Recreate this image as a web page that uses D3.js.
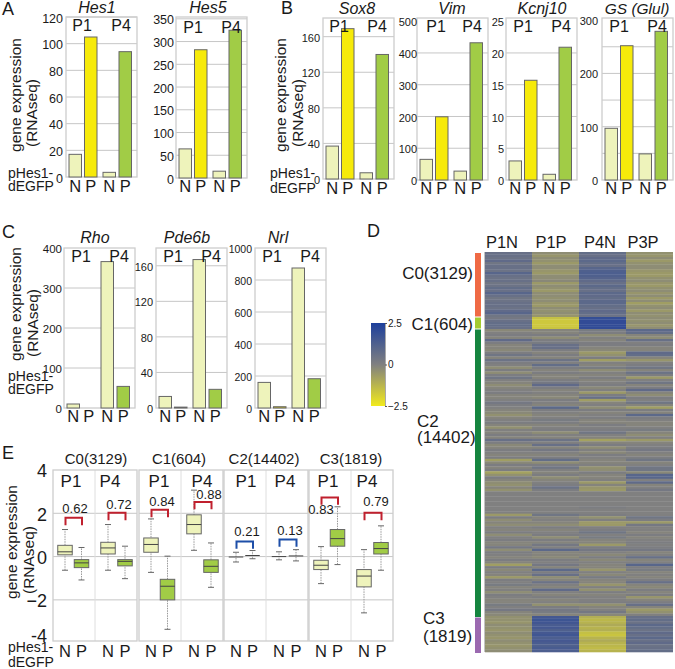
<!DOCTYPE html>
<html>
<head>
<meta charset="utf-8">
<script src="https://cdn.jsdelivr.net/npm/d3@7"></script>
<style>
html,body{margin:0;padding:0;background:#fff}
svg{display:block}
text{font-family:"Liberation Sans",Arial,sans-serif;fill:#1a1a1a}
</style>
</head>
<body>
<svg id="chart" width="675" height="669"></svg>
<script>
// ---------- DATA ----------
const barKeys = ["N1", "P1", "N4", "P4"];
const barLabels = ["N", "P", "N", "P"];
const hes1 = [17, 105, 3.5, 94];
const hes5 = [64, 282, 15, 325];
const sox8 = [37, 169, 7, 140];
const vim = [65, 199, 28, 432];
const kcnj10 = [3, 15.7, 0.9, 20.9];
const glul = [97, 252, 49, 279];
const rho = [10, 0, 366, 54];
const pde6b = [13, 1, 167, 21];
const nrl = [160, 8, 875, 183];

// box stats: [low, q1, median, q3, high]
const c0Boxes = [[-0.63,0.08,0.22,0.52,1.25],[-1.08,-0.51,-0.29,-0.14,0.42],[-0.63,0.12,0.40,0.66,1.48],[-1.02,-0.43,-0.22,-0.14,0.48]];
const c1Boxes = [[-0.73,0.20,0.56,0.86,1.74],[-3.36,-2.0,-1.37,-1.05,0.02],[0.29,1.05,1.48,1.93,3.07],[-1.42,-0.73,-0.45,-0.15,0.63]];
const c2Boxes = [[-0.25,-0.02,-0.02,-0.02,0.2],[-0.1,0.05,0.05,0.05,0.28],[-0.15,0,0,0,0.22],[-0.2,0.03,0.03,0.03,0.32]];
const c3Boxes = [[-1.25,-0.6,-0.4,-0.17,0.46],[-0.37,0.48,0.83,1.25,2.3],[-2.6,-1.4,-0.9,-0.6,0.32],[-0.63,0.12,0.37,0.65,1.42]];
const clusterTitles = ["C0(3129)", "C1(604)", "C2(14402)", "C3(1819)"];
const corrLabels = [["0.62","0.72"],["0.84","0.88"],["0.21","0.13"],["0.83","0.79"]];
const corrLevels = [[1.79,2.02],[2.16,2.52],[0.70,0.79],[2.73,2.02]];
const corrLabelLevels = [[2.0,2.2],[2.32,2.67],[0.94,0.98],[1.97,2.34]];

// heatmap: values in tenths of a unit (-25 .. 25)
const heatColumns = ["P1N", "P1P", "P4N", "P3P"];
const heatTicks = [2.5, 0, -2.5];
const c0P1N = [6,6,5,8,4,6,6,5,10,6,5,6,4,5,7,6,10,6,4,5,6,6,5,8,10,4];
const c0P1P = [-3,-5,-3,-4,-6,-3,-3,-5,-6,-3,-3,-2,-6,-3,-4,-6,-3,-3,-4,-3,-5,-6,-3,-4,-3,-5];
const c0P4N = [7,6,8,9,7,6,10,12,13,12,11,8,6,9,7,6,9,8,7,9,9,7,6,8,7,5];
const c0P3P = [-4,-5,-3,-6,-4,-3,-3,-5,-6,-6,-4,-3,-5,-6,-4,-3,-5,-3,-6,-3,-7,-4,-3,-6,-3,-4];
const c1P1N = [3,6,7,7,6];
const c1P1P = [-15,-17,-17,-17,-16];
const c1P4N = [19,20,20,20,20];
const c1P3P = [-3,-4,-3,-5,-3];
const c2P1N = [
 -2,0,1,-1,8,1,-1,-1,-2,1,4,-1,5,1,0,-3,1,-3,1,4,0,-1,-3,-1,0,1,-1,-1,0,3,1,0,-1,-2,-4,-1,0,1,-1,-4,
 0,-1,1,-1,6,1,-2,-1,1,0,-1,1,-7,-2,1,-1,1,-8,-4,1,-1,-3,-4,-1,-4,0,0,0,0,0,0,0,0,0,-6,1,-3,-1,-3,0,
 -1,1,-3,0,1,-1,-1,3,-3,1,0,-1,1,-1,-7,1,-2,0,-1,-6,1,0,2,-1,0,-3,1,0,-1,-1,2,0,3,-1,-2];
const c2P1P = [
 -1,-1,1,-3,1,2,6,6,1,-1,1,-1,5,0,7,1,-1,1,-1,-1,1,3,8,1,-1,0,-1,-2,1,0,-1,9,1,0,-1,0,2,1,-1,0,
 1,-3,0,-1,5,0,6,-1,3,0,-1,1,7,-3,1,4,0,-1,1,-3,-1,0,1,5,1,0,0,0,0,0,0,0,0,0,4,-1,0,-1,-3,1,
 -1,0,1,-3,1,-1,3,0,9,-1,-1,-2,1,0,3,-1,9,1,6,-3,-1,5,0,-1,8,0,-1,1,-1,0,-4,1,3,2,-1];
const c2P4N = [
 2,1,-3,0,-1,1,1,-1,-2,-6,-4,1,-7,0,-1,2,-3,0,-1,1,-1,0,1,-2,0,-6,1,6,-7,-1,0,-3,1,-1,0,1,-1,-1,1,0,
 1,4,0,-1,-8,-1,1,-3,0,-2,1,0,-1,-1,0,-4,-3,1,-1,-1,0,-6,-1,-5,-6,0,0,0,0,0,0,1,0,0,1,-4,0,-6,-6,0,
 1,4,0,2,-1,-1,-6,1,3,0,-2,1,-2,0,-1,-1,-5,0,-2,2,-1,-1,-5,0,-4,1,-1,0,0,1,-4,-1,0,3,-2];
const c2P3P = [
 9,7,-1,-3,6,0,1,-1,-1,8,7,-1,-5,0,1,4,-1,5,1,-6,0,4,-1,1,8,-1,-3,1,0,4,-1,-7,1,-1,9,1,0,-1,-1,0,
 2,-1,-3,0,-6,-1,0,1,3,0,-1,1,4,-1,0,4,4,-2,10,10,0,8,-1,0,3,0,0,0,0,0,0,0,0,0,0,4,1,-6,3,0,
 0,-1,1,-1,0,1,0,1,3,-1,0,6,-1,0,10,1,2,-1,0,-1,1,6,-1,-2,1,-1,1,-5,-1,1,6,-1,-6,-4,0];
const c3P1N = [-4,-4,-5,-3,-4,-5,-3,-4,-5,-3,-4,-5,-4,-3];
const c3P1P = [15,17,16,14,15,12,15,16,13,15,14,12,14,13];
const c3P4N = [-11,-13,-12,-10,-12,-11,-15,-16,-12,-10,-12,-13,-14,-12];
const c3P3P = [6,7,5,9,7,5,8,6,9,6,8,5,6,7];

// ---------- LAYOUT ----------
const svg = d3.select("#chart");
const frameColor = "#cdcdcd", gridColor = "#c6c6c6";
const fill = {N1:"#eef3bb", P1:"#f6ea0a", N4:"#eef3bb", P4:"#a1cc46"};
const barOffsets = [3, 18.5, 37, 53];
const barW = 12.5;
const boxOffsets = [12, 28.5, 55, 72];

const barPanels = [
 {name:"Hes1",values:hes1,left:66,top:17,bottom:177,max:120,grid:[20,40,60,80,100,120],labels:[0,20,40,60,80,100,120],right:63,font:12.5,cx:97,ty:13,p:[82,121],py:31},
 {name:"Hes5",values:hes5,left:176,top:17,bottom:178,max:354,grid:[50,100,150,200,250,300,350],labels:[0,50,100,150,200,250,300,350],right:174,font:12.5,cx:208,ty:13,p:[193,231],py:33},
 {name:"Sox8",values:sox8,left:323,top:18,bottom:179,max:181,grid:[40,80,120,160],labels:[0,40,80,120,160],right:320,font:11,cx:357,ty:14,p:[339,377],py:32},
 {name:"Vim",values:vim,left:417,top:18,bottom:180,max:510,grid:[100,200,300,400],labels:[0,100,200,300,400,500],right:417,font:11,cx:452,ty:14,p:[436,472],py:32},
 {name:"Kcnj10",values:kcnj10,left:506,top:18,bottom:180,max:25.5,grid:[5,10,15,20],labels:[0,5,10,15,20,25],right:504,font:11,cx:542,ty:14,p:[523,561],py:32},
 {name:"GS (Glul)",values:glul,left:602,top:18,bottom:180,max:304,grid:[50,100,150,200,250],labels:[0,100,200,300],right:598,font:11,cx:637,ty:14,p:[619,657],py:32},
 {name:"Rho",values:rho,left:64,top:248,bottom:408,max:400,grid:[100,200,300],labels:[0,100,200,300,400],right:62,font:11.5,cx:95,ty:243,p:[81,119],py:262,xy:422},
 {name:"Pde6b",values:pde6b,left:156,top:248,bottom:408,max:180,grid:[40,80,120,160],labels:[0,40,80,120,160],right:153,font:11,cx:187,ty:243,p:[173,211],py:262,xy:422},
 {name:"Nrl",values:nrl,left:255,top:248,bottom:408,max:1000,grid:[200,400,600,800],labels:[0,200,400,600,800,1000],right:252,font:10.5,cx:278,ty:243,p:[272,310],py:262,xy:422}
];

function txt(x, y, s, size, opts){
  opts = opts || {};
  return svg.append("text").attr("x",x).attr("y",y).attr("font-size",size)
    .attr("text-anchor",opts.anchor||"start").attr("font-style",opts.style||null).text(s);
}
function vtxt(x, cy, s, size){
  return svg.append("text").attr("transform",`translate(${x},${cy}) rotate(-90)`)
    .attr("font-size",size).attr("text-anchor","middle").text(s);
}

barPanels.forEach((pn,pi)=>{
  const xBar = d3.scaleOrdinal().domain(barKeys).range(barOffsets.map(o=>pn.left+o));
  const y = d3.scaleLinear().domain([0,pn.max]).range([pn.bottom,pn.top]);
  const g = svg.append("g");
  g.selectAll("line.grid").data(pn.grid).join("line")
    .attr("x1",pn.left).attr("x2",pn.left+71).attr("y1",d=>y(d)).attr("y2",d=>y(d))
    .attr("stroke",gridColor).attr("stroke-width",1);
  g.append("rect").attr("x",pn.left).attr("y",pn.top).attr("width",71).attr("height",pn.bottom-pn.top)
    .attr("fill","none").attr("stroke",frameColor).attr("stroke-width",1.3);
  g.selectAll("rect.bar").data(pn.values.map((v,i)=>({k:barKeys[i],v}))).join("rect").attr("class","bar")
    .filter(d=>d.v>0)
    .attr("x",d=>xBar(d.k)).attr("width",barW)
    .attr("y",d=>y(d.v)).attr("height",d=>y(0)-y(d.v))
    .attr("fill",d=>fill[d.k]).attr("stroke","#666").attr("stroke-width",1);
  const ax = g.append("g").attr("transform",`translate(${pn.right},1)`)
    .call(d3.axisLeft(y).tickValues(pn.labels).tickSize(0).tickPadding(0).tickFormat(d3.format("d")));
  ax.select(".domain").remove();
  ax.selectAll("text").attr("font-size",pn.font).attr("font-family",'"Liberation Sans"').attr("fill","#1a1a1a");
  txt(pn.cx,pn.ty,pn.name,pn.name.length>6?15.5:16,{anchor:"middle",style:"italic"});
  txt(pn.p[0],pn.py,"P1",16,{anchor:"middle"});
  txt(pn.p[1],pn.py,"P4",16,{anchor:"middle"});
  const xy = pn.xy || (pi<2?192:194);
  barKeys.forEach((k,i)=> txt(xBar(k)+barW/2,xy,barLabels[i],16.5,{anchor:"middle"}));
});

// y captions + sample labels
const captions = [
 {x1:21,x2:37,c1:95,c2:113},{x1:286,x2:303,c1:95,c2:113},
 {x1:21,x2:38,c1:304,c2:323},{x1:17,x2:34,c1:542,c2:560}
];
captions.forEach(c=>{ vtxt(c.x1,c.c1,"gene expression",15.5); vtxt(c.x2,c.c2,"(RNAseq)",15.5); });
const sampleLabels = [{x:8,a:178,b:191},{x:270,a:178,b:193},{x:8,a:381,b:394},{x:8,a:652,b:667}];
sampleLabels.forEach(s=>{ txt(s.x,s.a,"pHes1-",14); txt(s.x,s.b,"dEGFP",14); });
[["A",2,15],["B",281,14],["C",2,238],["D",367,237],["E",2,459]].forEach(d=>txt(d[1],d[2],d[0],18));

// ---------- PANEL E ----------
const facetLefts = [53,139,224,309];
const facetW = 84;
const eY = d3.scaleLinear().domain([-3.9,4]).range([641,470]);
const eGrid = [2,0,-2];
const eBoxes = [c0Boxes,c1Boxes,c2Boxes,c3Boxes];
const eTitleX = [96,179,264,351];
const eP = [[71,110],[159,202],[246,285],[328,367]];
const corrColor = ["#c0202e","#c0202e","#1d4ea8","#c0202e"];
const corrLabelX = [[75,119],[162,209],[247,290],[321,376]];

const eAxis = svg.append("g").attr("transform","translate(47,1)")
  .call(d3.axisLeft(eY).tickValues([4,2,0,-2,-3.9]).tickSize(0).tickPadding(0).tickFormat(d=>d<-3?"-4":d3.format("d")(d)));
eAxis.select(".domain").remove();
eAxis.selectAll("text").attr("font-size",18).attr("font-family",'"Liberation Sans"').attr("fill","#1a1a1a");
eAxis.selectAll(".tick").filter(d=>d<-3).attr("transform","translate(0,635)");

eBoxes.forEach((boxes,fi)=>{
  const left = facetLefts[fi];
  const x = d3.scaleOrdinal().domain(barKeys).range(boxOffsets.map(o=>left+o));
  const g = svg.append("g");
  g.selectAll("line.g").data(eGrid).join("line")
    .attr("x1",left).attr("x2",left+facetW).attr("y1",d=>eY(d)).attr("y2",d=>eY(d))
    .attr("stroke",gridColor);
  g.append("line").attr("x1",left+facetW/2).attr("x2",left+facetW/2).attr("y1",470).attr("y2",641).attr("stroke","#dedede");
  g.append("rect").attr("x",left).attr("y",470).attr("width",facetW).attr("height",171)
    .attr("fill","none").attr("stroke",frameColor).attr("stroke-width",1.3);
  boxes.forEach((b,i)=>{
    const k = barKeys[i], cx = x(k), w = 14.5;
    g.append("line").attr("x1",cx).attr("x2",cx).attr("y1",eY(b[0])).attr("y2",eY(b[4]))
      .attr("stroke","#999").attr("stroke-dasharray","1.5,1");
    [b[0],b[4]].forEach(v=> g.append("line").attr("x1",cx-3).attr("x2",cx+3).attr("y1",eY(v)).attr("y2",eY(v)).attr("stroke","#666"));
    if (b[3] > b[1]) {
      g.append("rect").attr("x",cx-w/2).attr("width",w).attr("y",eY(b[3])).attr("height",eY(b[1])-eY(b[3]))
        .attr("fill",i%2? "#a1cc46":"#eef3bb").attr("stroke","#666");
    }
    g.append("line").attr("x1",cx-w/2).attr("x2",cx+w/2).attr("y1",eY(b[2])).attr("y2",eY(b[2])).attr("stroke","#444");
    txt(cx,657,barLabels[i],16.5,{anchor:"middle"});
  });
  txt(eTitleX[fi],464,clusterTitles[fi],15,{anchor:"middle"});
  [0,1].forEach(j=>{
    txt(eP[fi][j],487,j?"P4":"P1",17,{anchor:"middle"});
    const xa = x(barKeys[j*2])+0.5, xb = x(barKeys[j*2+1])+0.5, lv = eY(corrLevels[fi][j]);
    g.append("path").attr("d",d3.line()([[xa,lv+7.3],[xa,lv],[xb,lv],[xb,lv+7.3]]))
      .attr("fill","none").attr("stroke",corrColor[fi]).attr("stroke-width",2);
    txt(corrLabelX[fi][j],eY(corrLabelLevels[fi][j]),corrLabels[fi][j],13,{anchor:"middle"});
  });
});

// ---------- PANEL D ----------
const heatColor = d3.scaleLinear().domain([-25,0,25]).range(["#f2ea1c","#808080","#1d3f9c"]);
const heatX = d3.scaleBand().domain(heatColumns).range([485,673]);
const heatBlocks = [
 {rows:[c0P1N,c0P1P,c0P4N,c0P3P],y0:252,y1:317,side:"#ef6a45",s0:253,s1:316.5},
 {rows:[c1P1N,c1P1P,c1P4N,c1P3P],y0:317,y1:329,side:"#a4cb30",s0:317.5,s1:328.5},
 {rows:[c2P1N,c2P1P,c2P4N,c2P3P],y0:329,y1:616,side:"#15853f",s0:329.5,s1:617},
 {rows:[c3P1N,c3P1P,c3P4N,c3P3P],y0:616,y1:652,side:"#9b69b0",s0:617.5,s1:653}
];
const defs = svg.append("defs");
const blur = defs.append("filter").attr("id","soft").attr("x","-2%").attr("y","-2%").attr("width","104%").attr("height","104%");
blur.append("feGaussianBlur").attr("stdDeviation","0.4 0.45");
const heat = svg.append("g").attr("filter","url(#soft)");
heatBlocks.forEach(b=>{
  svg.append("rect").attr("x",475).attr("width",6).attr("y",b.s0).attr("height",b.s1-b.s0).attr("fill",b.side);
  b.rows.forEach((col,ci)=>{
    const yb = d3.scaleBand().domain(d3.range(col.length)).range([b.y0,b.y1]);
    heat.selectAll(null).data(col).join("rect")
      .attr("x",heatX(heatColumns[ci])).attr("width",heatX.bandwidth())
      .attr("y",(d,i)=>yb(i)).attr("height",yb.bandwidth()+0.3)
      .attr("fill",d=>heatColor(d));
  });
});
svg.append("line").attr("x1",484.5).attr("x2",484.5).attr("y1",252).attr("y2",652).attr("stroke","#c4c4c4");
heatColumns.forEach((c,i)=>{ txt([502,551,600,643][i],248,c,16.5,{anchor:"middle"}); });

// side labels
txt(473,279,"C0(3129)",17,{anchor:"end"});
txt(473,330,"C1(604)",17,{anchor:"end"});
txt(417,427,"C2",17); txt(417,443,"(14402)",17);
txt(423,624,"C3",17); txt(423,642,"(1819)",17);

// colour bar
const cbY = d3.scaleLinear().domain([2.5,-2.5]).range([323,406]);
const grad = defs.append("linearGradient").attr("id","cb").attr("x1",0).attr("x2",0).attr("y1",0).attr("y2",1);
d3.range(0,1.01,0.25).forEach(t=>{
  grad.append("stop").attr("offset",t).attr("stop-color",heatColor(25-50*t));
});
svg.append("rect").attr("x",371).attr("y",323).attr("width",14).attr("height",83).attr("fill","url(#cb)");
const cbAxis = svg.append("g").attr("transform","translate(385,0)")
  .call(d3.axisRight(cbY).tickValues(heatTicks).tickSize(2).tickPadding(1).tickFormat(d=>d===0?"0":d3.format(".1f")(d)));
cbAxis.select(".domain").attr("stroke","#aaa");
cbAxis.selectAll("line").attr("stroke","#555");
cbAxis.selectAll("text").attr("font-size",10).attr("font-family",'"Liberation Sans"').attr("fill","#1a1a1a");
</script>
</body>
</html>
